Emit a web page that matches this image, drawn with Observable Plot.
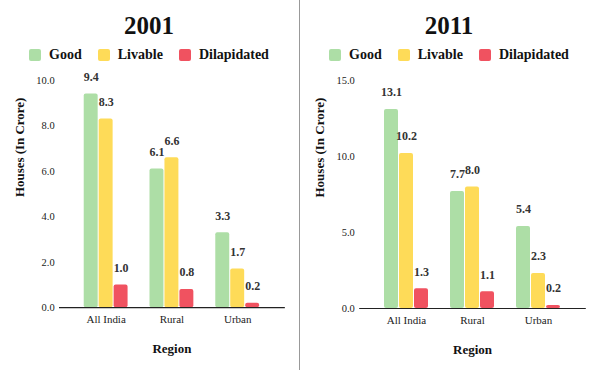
<!DOCTYPE html>
<html>
<head>
<meta charset="utf-8">
<script src="https://cdn.jsdelivr.net/npm/d3@7"></script>
<script src="https://cdn.jsdelivr.net/npm/@observablehq/plot@0.6"></script>
<style>
  body { margin: 0; background: #fff; font-family: "Liberation Serif", serif; }
  #wrap { display: flex; width: 600px; height: 370px; overflow: hidden; }
  .panel { width: 300px; height: 370px; position: relative; box-sizing: border-box; }
  .panel.first { border-right: 1px solid #999; }
  .title { position: absolute; top: 13px; left: 0; width: 298px; text-align: center; font-family: "Liberation Serif", serif; font-weight: bold; font-size: 25px; color: #111; line-height: 26px; }
  .legend { position: absolute; top: 47px; left: 0; width: 298px; display: flex; justify-content: center; gap: 16px; font-family: "Liberation Serif", serif; font-weight: bold; font-size: 14px; color: #111; line-height: 16px; }
  .legend span.item { display: flex; align-items: center; gap: 8px; }
  .legend span.sw { width: 12px; height: 12px; border-radius: 2px; display: inline-block; }
</style>
</head>
<body>
<div id="wrap"></div>
<script>
const regions = ["All India", "Rural", "Urban"];
const types = ["Good", "Livable", "Dilapidated"];
const colors = ["#addea6", "#fedb58", "#f05260"];
const years = ["2001", "2011"];
const good2001 = [9.4, 6.1, 3.3];
const livable2001 = [8.3, 6.6, 1.7];
const dilapidated2001 = [1.0, 0.8, 0.2];
const good2011 = [13.1, 7.7, 5.4];
const livable2011 = [10.2, 8.0, 2.3];
const dilapidated2011 = [1.3, 1.1, 0.2];
const yTicks2001 = [0, 2, 4, 6, 8, 10];
const yTicks2011 = [0, 5, 10, 15];
const yLabel = "Houses (In Crore)";
const xLabel = "Region";

function rows(g, l, d) {
  const out = [];
  regions.forEach((r, i) => {
    out.push({region: r, type: "Good", value: g[i]});
    out.push({region: r, type: "Livable", value: l[i]});
    out.push({region: r, type: "Dilapidated", value: d[i]});
  });
  return out;
}

const panels = [
  {year: years[0], data: rows(good2001, livable2001, dilapidated2001), ticks: yTicks2001},
  {year: years[1], data: rows(good2011, livable2011, dilapidated2011), ticks: yTicks2011}
];

// layout constants
const W = 300, H = 300, ML = 58, MR = 15;
const PI = 0.34, PO = 0.37;
const step = (W - ML - MR) / (regions.length - PI + 2 * PO);
const outerPad = PO * step; // distance from frame edge to first facet band

const wrap = document.getElementById("wrap");
panels.forEach((p, idx) => {
  const panel = document.createElement("div");
  panel.className = "panel" + (idx === 0 ? " first" : "");
  const title = document.createElement("div");
  title.className = "title";
  title.textContent = p.year;
  panel.appendChild(title);
  const legend = document.createElement("div");
  legend.className = "legend";
  types.forEach((t, i) => {
    const it = document.createElement("span");
    it.className = "item";
    const sw = document.createElement("span");
    sw.className = "sw";
    sw.style.background = colors[i];
    it.appendChild(sw);
    it.appendChild(document.createTextNode(t));
    legend.appendChild(it);
  });
  panel.appendChild(legend);

  const chart = Plot.plot({
    width: W,
    height: H,
    marginLeft: ML,
    marginRight: MR,
    marginTop: 10,
    marginBottom: 62,
    style: {fontFamily: "'Liberation Serif', serif", color: "#222", background: "transparent"},
    fx: {domain: regions, paddingInner: PI, paddingOuter: PO, label: null},
    x: {domain: types, paddingInner: 0.07, paddingOuter: 0, axis: null},
    y: {domain: [0, d3.max(p.ticks)], axis: null},
    color: {domain: types, range: colors},
    marks: [
      Plot.axisY({ticks: p.ticks, tickFormat: d3.format(".1f"), tickSize: 0, tickPadding: outerPad + 5, fontSize: 10.5, label: null}),
      Plot.axisFx({anchor: "bottom", tickSize: 0, tickPadding: 8, fontSize: 11, label: null}),
      Plot.text([yLabel], {text: d => d, frameAnchor: "left", rotate: -90, dx: -(outerPad + 40), dy: 3, fontSize: 13, fontWeight: "bold", fill: "#111", facet: "super"}),
      Plot.text([xLabel], {text: d => d, frameAnchor: "bottom", dy: 45, fontSize: 13, fontWeight: "bold", fill: "#111", facet: "super"}),
      Plot.barY(p.data, {fx: "region", x: "type", y: "value", fill: "type", rx: 2}),
      Plot.text(p.data, {fx: "region", x: "type", y: "value", text: d => d3.format(".1f")(d.value), dy: -17, fontSize: 12, fontWeight: "bold", fill: "#333"}),
      Plot.frame({anchor: "bottom", stroke: "#222", strokeWidth: 1.2, insetLeft: -outerPad, insetRight: -outerPad, facet: "super"})
    ]
  });
  chart.style.position = "absolute";
  chart.style.top = "70px";
  chart.style.left = "0px";
  panel.appendChild(chart);
  wrap.appendChild(panel);
});
</script>
</body>
</html>
